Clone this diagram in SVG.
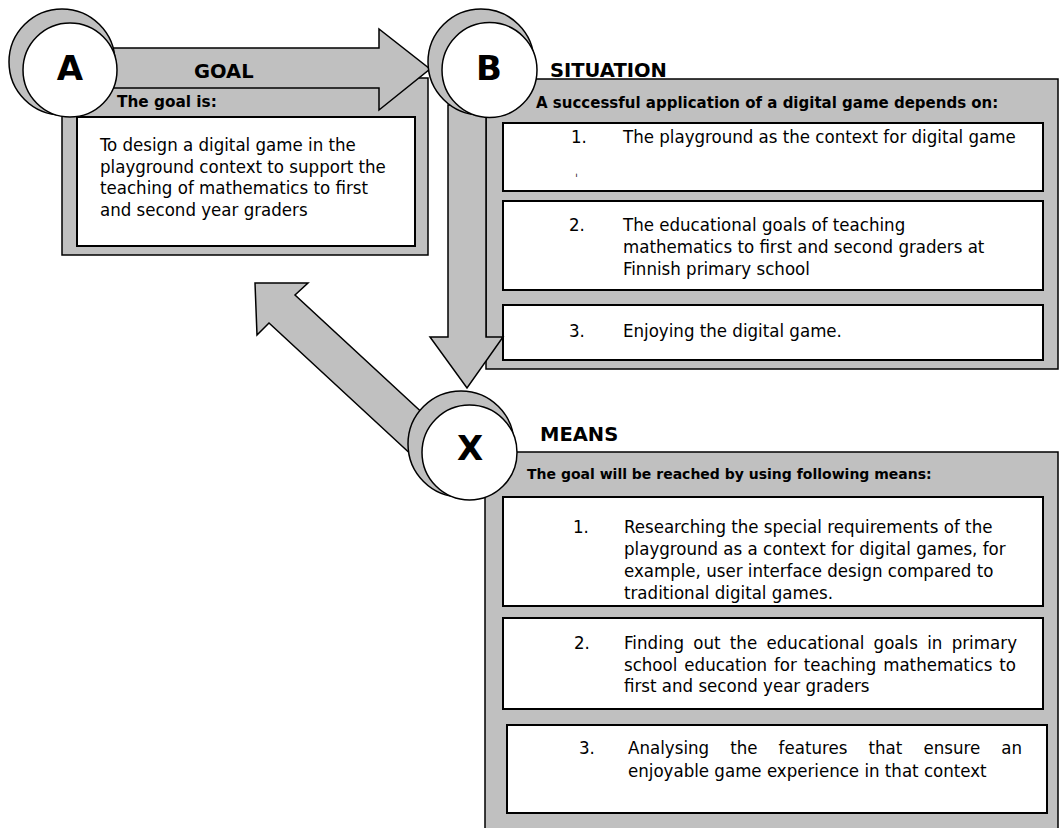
<svg xmlns="http://www.w3.org/2000/svg" width="1062" height="828" viewBox="0 0 1062 828">
<style>
.panel{fill:#c0c0c0;stroke:#000;stroke-width:1.5}
.box{fill:#fff;stroke:#000;stroke-width:2}
.arrow{fill:#c0c0c0;stroke:#000;stroke-width:1.5;stroke-linejoin:miter}
.ring{fill:#c0c0c0;stroke:#000;stroke-width:1.5}
.disc{fill:#fff;stroke:#000;stroke-width:1.5}
.letter{font-family:'DejaVu Sans',sans-serif;font-weight:bold;font-size:34px;text-anchor:middle}
.head{font-family:'DejaVu Sans',sans-serif;font-weight:bold;font-size:19.5px}
.sub{font-family:'DejaVu Sans',sans-serif;font-weight:bold;font-size:15px}
.body{font-family:'DejaVu Sans Condensed','DejaVu Sans',sans-serif;font-stretch:condensed;font-size:18.5px}
</style>
<rect width="1062" height="828" fill="#fff"/>
<g id="panel-goal">
<rect class="panel" x="62" y="78" width="366" height="177"/>
<rect class="box" x="77" y="117" width="338" height="129"/>
<text class="sub" x="117" y="107" style="font-size:15.3px">The goal is:</text>
<text class="body" x="100" y="151">To design a digital game in the</text>
<text class="body" x="100" y="172.5">playground context to support the</text>
<text class="body" x="100" y="194">teaching of mathematics to first</text>
<text class="body" x="100" y="215.5">and second year graders</text>
</g>
<g id="panel-situation">
<rect class="panel" x="486" y="79" width="572" height="290"/>
<text class="sub" x="536" y="108">A successful application of a digital game depends on:</text>
<rect class="box" x="503" y="123" width="540" height="68"/>
<text class="body" x="571" y="143">1.</text>
<text class="body" x="623" y="143">The playground as the context for digital game</text>
<text class="body" x="575" y="175" style="font-size:12px">ˌ</text>
<rect class="box" x="503" y="201" width="540" height="89"/>
<text class="body" x="569" y="231">2.</text>
<text class="body" x="623" y="231">The educational goals of teaching</text>
<text class="body" x="623" y="253">mathematics to first and second graders at</text>
<text class="body" x="623" y="275">Finnish primary school</text>
<rect class="box" x="503" y="305" width="540" height="55"/>
<text class="body" x="569" y="337">3.</text>
<text class="body" x="623" y="337">Enjoying the digital game.</text>
</g>
<g id="panel-means">
<rect class="panel" x="485" y="452" width="573" height="380"/>
<text class="sub" x="527" y="479" style="font-size:14px">The goal will be reached by using following means:</text>
<rect class="box" x="503" y="497" width="540" height="109"/>
<text class="body" x="573" y="533">1.</text>
<text class="body" x="624" y="533">Researching the special requirements of the</text>
<text class="body" x="624" y="555">playground as a context for digital games, for</text>
<text class="body" x="624" y="577">example, user interface design compared to</text>
<text class="body" x="624" y="599">traditional digital games.</text>
<rect class="box" x="503" y="618" width="540" height="91"/>
<text class="body" x="574" y="649">2.</text>
<text class="body" x="624" y="649" word-spacing="3.9" textLength="393">Finding out the educational goals in primary</text>
<text class="body" x="624" y="671" word-spacing="1.7" textLength="392">school education for teaching mathematics to</text>
<text class="body" x="624" y="692">first and second year graders</text>
<rect class="box" x="507" y="725" width="540" height="88"/>
<text class="body" x="579" y="754">3.</text>
<text class="body" x="628" y="754" word-spacing="15.7" textLength="394">Analysing the features that ensure an</text>
<text class="body" x="628" y="777">enjoyable game experience in that context</text>
</g>
<g id="connectors">
<polygon id="arrow-A-B" class="arrow" points="105,48 379,48 379,29 430,69 379,110 379,88 105,88"/>
<polygon id="arrow-B-X" class="arrow" points="448,105 448,337 430,337 467,388 503,337 486,337 486,105"/>
<polygon id="arrow-X-A" class="arrow" points="255,283 308,283 295,295 442,431 416,459 269,323 257,335"/>
</g>
<g id="node-A">
<circle class="ring" cx="62" cy="62" r="53"/>
<circle class="disc" cx="70" cy="70" r="47"/>
<text class="letter" x="70" y="80">A</text>
<text class="head" x="194" y="78">GOAL</text>
</g>
<g id="node-B">
<circle class="ring" cx="481" cy="62" r="53"/>
<circle class="disc" cx="489.5" cy="70" r="47.5"/>
<text class="letter" x="489" y="80">B</text>
<text class="head" x="550" y="77">SITUATION</text>
</g>
<g id="node-X">
<circle class="ring" cx="461" cy="444" r="53"/>
<circle class="disc" cx="469.5" cy="452.5" r="47.5"/>
<text class="letter" x="470" y="460">X</text>
<text class="head" x="540" y="441">MEANS</text>
</g>
</svg>
